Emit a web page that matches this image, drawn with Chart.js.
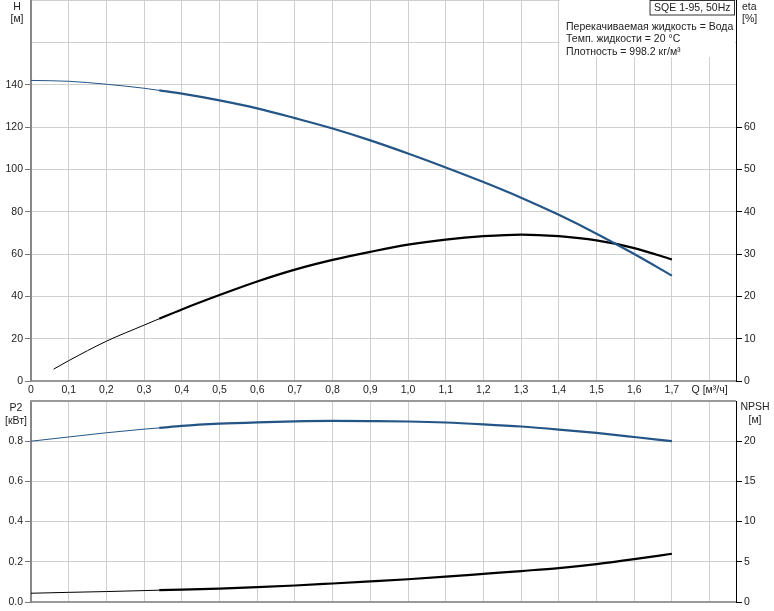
<!DOCTYPE html>
<html>
<head>
<meta charset="utf-8">
<script src="https://cdn.jsdelivr.net/npm/chart.js@4.4.1/dist/chart.umd.min.js"></script>
<style>
  html, body { margin: 0; padding: 0; background: #fff; }
  #wrap { position: relative; width: 774px; height: 611px; overflow: hidden; }
  canvas { position: absolute; left: 0; }
  #topChart { top: 0; }
  #botChart { top: 398px; }
</style>
</head>
<body>
<div id="wrap">
  <canvas id="topChart" width="774" height="398"></canvas>
  <canvas id="botChart" width="774" height="213"></canvas>
</div>
<script>
// Data
const qPoints = [0, 0.1, 0.2, 0.3, 0.34, 0.4, 0.5, 0.6, 0.7, 0.8, 0.9, 1.0, 1.1, 1.2, 1.3, 1.4, 1.5, 1.6, 1.7];
const headH   = [142, 141.6, 140.2, 138.3, 137.3, 135.8, 132.6, 128.8, 124.2, 119.3, 113.7, 107.5, 100.9, 94.0, 86.6, 78.5, 69.6, 60.0, 49.8];
const qEta    = [0.06, 0.1, 0.2, 0.3, 0.34, 0.4, 0.5, 0.6, 0.7, 0.8, 0.9, 1.0, 1.1, 1.2, 1.3, 1.4, 1.5, 1.6, 1.7];
const etaPct  = [2.8, 4.8, 9.4, 13.2, 14.7, 16.9, 20.3, 23.5, 26.3, 28.6, 30.5, 32.2, 33.4, 34.2, 34.6, 34.2, 33.2, 31.4, 28.7];
const powerP2 = [0.800, 0.821, 0.842, 0.860, 0.866, 0.876, 0.887, 0.894, 0.899, 0.901, 0.900, 0.898, 0.893, 0.884, 0.873, 0.858, 0.841, 0.821, 0.800];
const npshM   = [1.09, 1.2, 1.3, 1.42, 1.47, 1.53, 1.66, 1.84, 2.05, 2.3, 2.56, 2.83, 3.15, 3.5, 3.85, 4.22, 4.72, 5.33, 6.0];

// Axis ticks
const qTicks   = [0, 0.1, 0.2, 0.3, 0.4, 0.5, 0.6, 0.7, 0.8, 0.9, 1.0, 1.1, 1.2, 1.3, 1.4, 1.5, 1.6, 1.7, 1.8];
const hTicks   = [0, 20, 40, 60, 80, 100, 120, 140, 160, 180];
const etaTicks = [0, 10, 20, 30, 40, 50, 60, 70, 80, 90];
const p2Ticks  = [0, 0.2, 0.4, 0.6, 0.8, 1.0];
const npTicks  = [0, 5, 10, 15, 20, 25];
const qLabels  = ['0', '0,1', '0,2', '0,3', '0,4', '0,5', '0,6', '0,7', '0,8', '0,9', '1,0', '1,1', '1,2', '1,3', '1,4', '1,5', '1,6', '1,7', 'Q [м³/ч]'];

const infoLines = ['Перекачиваемая жидкость = Вода', 'Темп. жидкости = 20 °C', 'Плотность = 998.2 кг/м³'];
const pumpName = 'SQE 1-95, 50Hz';

const FONT = { family: '"Liberation Sans", Arial, sans-serif', size: 10.5 };
const TXT = '#222';
const GRID = '#cfcfcf';
const BLUE = '#245587';
const BLACK = '#000';
const THIN_END = 0.34;

Chart.defaults.font.family = FONT.family;
Chart.defaults.font.size = FONT.size;
Chart.defaults.color = TXT;

const pts = (xs, ys) => xs.map((x, i) => ({ x: x, y: ys[i] }));
const setTicks = list => scale => { scale.ticks = list.map(v => ({ value: v })); };
const widthBySection = ctx => ctx.p0.parsed.x < THIN_END - 1e-6 ? 1 : 2.2;
const noPad = s => { s.paddingTop = 0; s.paddingBottom = 0; s.paddingLeft = 0; s.paddingRight = 0; };

function curve(label, data, color, axis) {
    return {
        label: label,
        data: data,
        yAxisID: axis,
        borderColor: color,
        borderWidth: 2.2,
        pointRadius: 0,
        fill: false,
        cubicInterpolationMode: 'monotone',
        segment: { borderWidth: widthBySection }
    };
}

// small text drawn next to the axes
function textPlugin(id, items) {
    return {
        id: id,
        afterDraw(chart) {
            const c = chart.ctx;
            c.save();
            c.font = FONT.size + 'px ' + FONT.family;
            c.fillStyle = TXT;
            c.textBaseline = 'middle';
            items.forEach(t => {
                c.textAlign = t.align || 'center';
                c.fillText(t.text, t.x, t.y);
            });
            c.restore();
        }
    };
}

const infoBox = {
    id: 'infoBox',
    beforeDatasetsDraw(chart) {
        const c = chart.ctx;
        const a = chart.chartArea;
        const x0 = chart.scales.x.getPixelForValue(1.4) + 1;
        const y1 = chart.scales.yH.getPixelForValue(153);
        c.save();
        c.fillStyle = '#fff';
        c.fillRect(x0, a.top, a.right - 1 - x0, y1 - a.top);
        c.font = FONT.size + 'px ' + FONT.family;
        c.fillStyle = TXT;
        c.textBaseline = 'middle';
        c.textAlign = 'left';
        infoLines.forEach((t, i) => c.fillText(t, 566, 27 + i * 12.5));
        const w = c.measureText(pumpName).width + 8;
        c.strokeStyle = '#333';
        c.lineWidth = 1;
        c.strokeRect(a.right - 1.5 - w, 0.5, w, 14.5);
        c.textAlign = 'center';
        c.fillText(pumpName, a.right - 1.5 - w / 2, 8);
        c.restore();
    }
};

const topBorder = {
    id: 'topBorder',
    afterDraw(chart) {
        const c = chart.ctx;
        const a = chart.chartArea;
        c.save();
        c.strokeStyle = '#999';
        c.lineWidth = 2;
        c.beginPath();
        c.moveTo(a.left - 1, a.top);
        c.lineTo(a.right, a.top);
        c.stroke();
        c.restore();
    }
};

function xAxis(showLabels, height) {
    return {
        type: 'linear',
        position: 'bottom',
        min: 0,
        max: 1.87,
        afterBuildTicks: setTicks(qTicks),
        afterFit: s => { s.height = height; noPad(s); },
        grid: { color: GRID, drawTicks: false },
        border: { color: '#999', width: 2 },
        ticks: {
            display: showLabels,
            padding: 3,
            maxRotation: 0,
            autoSkip: false,
            callback: (v, i) => qLabels[i]
        }
    };
}

function sideAxis(pos, min, max, list, lastLabel, fmt, width, opts) {
    return Object.assign({
        type: 'linear',
        position: pos,
        min: min,
        max: max,
        afterBuildTicks: setTicks(list),
        afterFit: s => { s.width = width; noPad(s); },
        ticks: {
            padding: 2,
            autoSkip: false,
            callback: v => v <= lastLabel + 1e-9 ? fmt(v) : ''
        }
    }, opts);
}

new Chart(document.getElementById('topChart'), {
    type: 'line',
    data: {
        datasets: [
            curve('H', pts(qPoints, headH), BLUE, 'yH'),
            curve('eta', pts(qEta, etaPct), BLACK, 'yEta')
        ]
    },
    options: {
        responsive: false,
        animation: false,
        devicePixelRatio: 1,
        layout: { padding: 0 },
        plugins: { legend: { display: false }, tooltip: { enabled: false } },
        scales: {
            x: xAxis(true, 17),
            yH: sideAxis('left', 0, 180, hTicks, 140, v => String(v), 31, {
                grid: { color: GRID, tickLength: 6,
                        tickColor: ctx => ctx.tick && ctx.tick.value > 140 ? 'rgba(0,0,0,0)' : '#777' },
                border: { color: '#888', width: 2 }
            }),
            yEta: sideAxis('right', 0, 90, etaTicks, 60, v => String(v), 38, {
                grid: { drawOnChartArea: false, tickLength: 6,
                        tickColor: ctx => ctx.tick && ctx.tick.value > 60 ? 'rgba(0,0,0,0)' : '#000' },
                border: { color: '#000', width: 1 }
            })
        }
    },
    plugins: [infoBox, textPlugin('topText', [
        { text: 'H', x: 17, y: 7 },
        { text: '[м]', x: 17, y: 19 },
        { text: 'eta', x: 742, y: 7, align: 'left' },
        { text: '[%]', x: 742, y: 19, align: 'left' }
    ])]
});

new Chart(document.getElementById('botChart'), {
    type: 'line',
    data: {
        datasets: [
            curve('P2', pts(qPoints, powerP2), BLUE, 'yP'),
            curve('NPSH', pts(qPoints, npshM), BLACK, 'yN')
        ]
    },
    options: {
        responsive: false,
        animation: false,
        devicePixelRatio: 1,
        layout: { padding: { top: 3, left: 0, right: 0, bottom: 0 } },
        plugins: { legend: { display: false }, tooltip: { enabled: false } },
        scales: {
            x: xAxis(false, 9),
            yP: sideAxis('left', 0, 1.0, p2Ticks, 0.8, v => v.toFixed(1), 31, {
                grid: { color: GRID, tickLength: 6,
                        tickColor: ctx => ctx.tick && ctx.tick.value > 0.8 + 1e-9 ? 'rgba(0,0,0,0)' : '#777' },
                border: { color: '#888', width: 2 }
            }),
            yN: sideAxis('right', 0, 25, npTicks, 20, v => String(v), 38, {
                grid: { drawOnChartArea: false, tickLength: 6,
                        tickColor: ctx => ctx.tick && ctx.tick.value > 20 ? 'rgba(0,0,0,0)' : '#000' },
                border: { color: '#000', width: 1 }
            })
        }
    },
    plugins: [topBorder, textPlugin('botText', [
        { text: 'P2', x: 16, y: 10 },
        { text: '[кВт]', x: 16, y: 23 },
        { text: 'NPSH', x: 755, y: 9 },
        { text: '[м]', x: 755, y: 22 }
    ])]
});
</script>
</body>
</html>
